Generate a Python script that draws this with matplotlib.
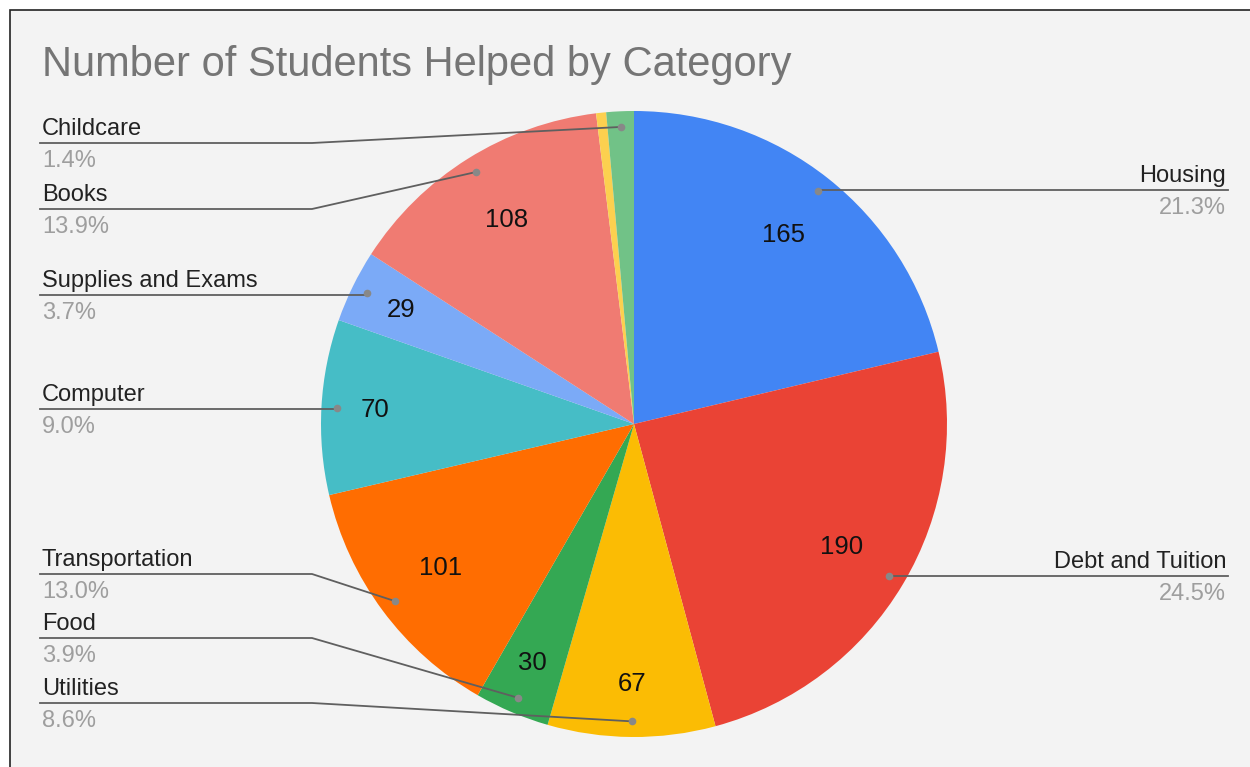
import numpy as np
import matplotlib
matplotlib.use("Agg")
import matplotlib.pyplot as plt
from matplotlib.patches import Rectangle

# data, clockwise from 12 o'clock
categories = ["Housing", "Debt and Tuition", "Utilities", "Food", "Transportation",
              "Computer", "Supplies and Exams", "Books", "", "Childcare"]
students = [165, 190, 67, 30, 101, 70, 29, 108, 4, 11]
colors = ["#4285f4", "#ea4335", "#fbbc04", "#34a853", "#ff6d01",
          "#46bdc6", "#7baaf7", "#f07b72", "#fcd04f", "#71c287"]

# label line heights (image px from top) for the labelled slices
label_y = {"Housing": 190, "Debt and Tuition": 576, "Utilities": 703, "Food": 638,
           "Transportation": 574, "Computer": 409, "Supplies and Exams": 295,
           "Books": 209, "Childcare": 143}

W, H = 1250, 767
cx, cy, R = 634, H - 424, 313

fig = plt.figure(figsize=(W / 100, H / 100), dpi=100)
fig.patch.set_facecolor("white")
ax = fig.add_axes([0, 0, 1, 1])

ax.add_patch(Rectangle((10, -5), W, H - 5, facecolor="#f3f3f3",
                       edgecolor="#222222", linewidth=1.2, zorder=0))

wedges, _ = ax.pie(students, colors=colors, startangle=90, counterclock=False,
                   center=(cx, cy), radius=R, frame=True,
                   wedgeprops=dict(linewidth=0))

total = float(sum(students))
font = ["Liberation Sans", "DejaVu Sans"]

for w, name, val in zip(wedges, categories, students):
    ang = np.deg2rad((w.theta1 + w.theta2) / 2)
    frac = val / total
    # value inside slice
    if frac > 0.02:
        rr = 0.77 if frac >= 0.1 else 0.83
        ax.text(cx + rr * R * np.cos(ang), cy + rr * R * np.sin(ang), str(val),
                ha="center", va="center", fontsize=18.5, color="#111111", family=font)
    if not name:
        continue
    dx = cx + 0.95 * R * np.cos(ang)
    dy = cy + 0.95 * R * np.sin(ang)
    ly = H - label_y[name]
    ax.plot(dx, dy, "o", ms=5.5, color="#888888", mec="none", zorder=5)
    if np.cos(ang) > 0:
        ax.plot([1228, dx], [ly, ly], color="#5f5f5f", lw=1.3, zorder=4)
        ax.text(1226, ly + 8, name, ha="right", va="baseline", fontsize=17,
                color="#222222", family=font)
        ax.text(1226, ly - 7, "%.1f%%" % (frac * 100), ha="right", va="top",
                fontsize=17, color="#9e9e9e", family=font)
    else:
        bend = 312 if abs(dy - ly) > 3 else dx
        ax.plot([40, bend, dx], [ly, ly, dy], color="#5f5f5f", lw=1.3, zorder=4)
        ax.text(42, ly + 8, name, ha="left", va="baseline", fontsize=17,
                color="#222222", family=font)
        ax.text(42, ly - 7, "%.1f%%" % (frac * 100), ha="left", va="top",
                fontsize=17, color="#9e9e9e", family=font)

ax.text(42, H - 76, "Number of Students Helped by Category", ha="left", va="baseline",
        fontsize=30, color="#757575", family=font)

ax.set_xlim(0, W)
ax.set_ylim(0, H)
ax.set_aspect("auto")
ax.axis("off")

fig.savefig("out.png", dpi=100, facecolor="white")
